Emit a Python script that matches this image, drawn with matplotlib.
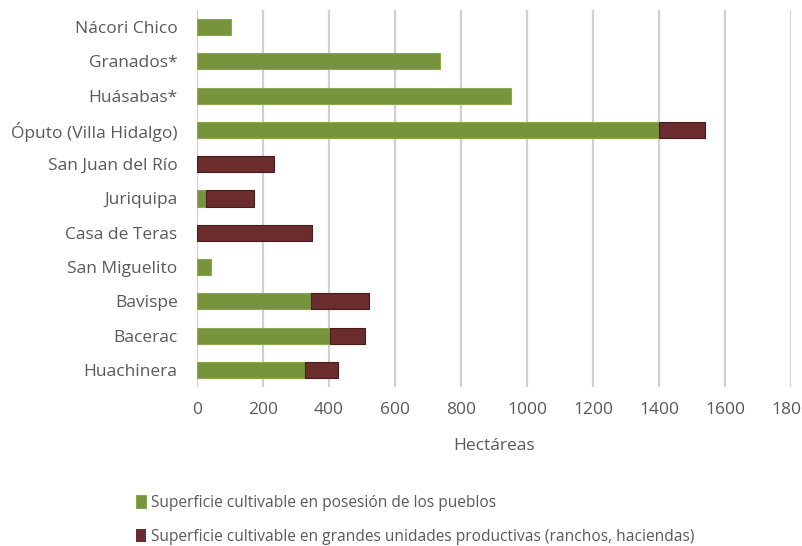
import matplotlib.pyplot as plt
import numpy as np

plt.rcParams['font.family'] = ['Open Sans', 'DejaVu Sans']

pueblos = ['Nácori Chico', 'Granados*', 'Huásabas*', 'Óputo (Villa Hidalgo)',
           'San Juan del Río', 'Juriquipa', 'Casa de Teras', 'San Miguelito',
           'Bavispe', 'Bacerac', 'Huachinera']
sup_pueblos = [102, 737, 952, 1400, 0, 27, 0, 44, 345, 402, 327]
sup_grandes = [0, 0, 0, 140, 233, 145, 348, 0, 175, 106, 100]
xticks = [0, 200, 400, 600, 800, 1000, 1200, 1400, 1600, 1800]

verde = '#77933C'
rojo = '#6A2C2C'
gris = '#595959'

fig = plt.figure(figsize=(8.03, 5.46), dpi=100)
ax = fig.add_axes([0.2453, 0.2912, 0.7397, 0.6905])

y = np.arange(len(pueblos))
# no edge on empty segments
lw_p = [0.8 if v > 0 else 0 for v in sup_pueblos]
lw_g = [0.8 if v > 0 else 0 for v in sup_grandes]
ax.barh(y, sup_pueblos, height=0.47, color=verde, edgecolor='#8AA64E',
        linewidth=lw_p, label='Superficie cultivable en posesión de los pueblos',
        zorder=3)
ax.barh(y, sup_grandes, left=sup_pueblos, height=0.47, color=rojo,
        edgecolor='#4A1C1C', linewidth=lw_g,
        label='Superficie cultivable en grandes unidades productivas (ranchos, haciendas)',
        zorder=3)

ax.set_xlim(0, 1800)
ax.set_ylim(len(pueblos) - 0.5, -0.5)
ax.set_yticks(y)
ax.set_yticklabels(pueblos, fontsize=12.5, color=gris)
ax.set_xticks(xticks)
ax.set_xticklabels([str(t) for t in xticks], fontsize=12.5, color=gris)
ax.tick_params(axis='both', length=0)
ax.tick_params(axis='y', pad=14)
ax.tick_params(axis='x', pad=11)
ax.xaxis.grid(True, color='#D0D0D0', linewidth=1.6, zorder=0)
for s in ax.spines.values():
    s.set_visible(False)
ax.set_xlabel('Hectáreas', fontsize=12.5, color=gris, labelpad=14)

fig.legend(loc='upper left', bbox_to_anchor=(0.162, 0.105), frameon=False,
           fontsize=11.2, labelcolor=gris, handlelength=0.63, handleheight=0.9,
           handletextpad=0.3, labelspacing=1.15, borderaxespad=0)

fig.savefig('out.png', dpi=100)
plt.close('all')
